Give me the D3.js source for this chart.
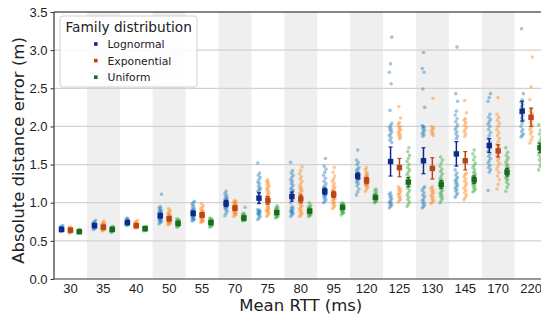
<!DOCTYPE html>
<html>
<head>
<meta charset="utf-8">
<script src="https://cdn.jsdelivr.net/npm/d3@7"></script>
<style>
  body { margin: 0; background: #fff; }
  svg { font-family: "DejaVu Sans", sans-serif; }
</style>
</head>
<body>
<svg id="chart"></svg>
<script>
const categories = ['30', '35', '40', '50', '55', '70', '75', '80', '95', '120', '125', '130', '145', '170', '220'];
const families = ['Lognormal', 'Exponential', 'Uniform'];
const yTicks = [0, 0.5, 1.0, 1.5, 2.0, 2.5, 3.0, 3.5];

// mean and error-bar half width
const lognormalMean = [0.65, 0.70, 0.74, 0.83, 0.86, 0.99, 1.06, 1.08, 1.15, 1.35, 1.54, 1.55, 1.64, 1.75, 2.20];
const lognormalErr = [0.01, 0.015, 0.015, 0.03, 0.03, 0.04, 0.07, 0.06, 0.04, 0.04, 0.19, 0.17, 0.16, 0.09, 0.13];
const exponentialMean = [0.64, 0.68, 0.70, 0.79, 0.84, 0.93, 1.03, 1.05, 1.11, 1.29, 1.46, 1.45, 1.55, 1.68, 2.12];
const exponentialErr = [0.01, 0.015, 0.015, 0.03, 0.03, 0.03, 0.05, 0.05, 0.04, 0.04, 0.12, 0.14, 0.12, 0.08, 0.12];
const uniformMean = [0.62, 0.65, 0.66, 0.73, 0.74, 0.80, 0.87, 0.89, 0.94, 1.07, 1.27, 1.24, 1.30, 1.40, 1.72];
const uniformErr = [0.01, 0.01, 0.01, 0.015, 0.02, 0.02, 0.02, 0.02, 0.02, 0.02, 0.06, 0.05, 0.05, 0.05, 0.06];

// individual runs, one list per RTT
const lognormalPts = [
  [0.62,0.63,0.63,0.64,0.64,0.64,0.65,0.65,0.65,0.65,0.66,0.66,0.66,0.67,0.67,0.68,0.69,0.70,0.64,0.65],
  [0.65,0.66,0.67,0.68,0.68,0.69,0.69,0.70,0.70,0.70,0.71,0.71,0.72,0.72,0.73,0.74,0.75,0.77,0.69,0.71],
  [0.70,0.71,0.71,0.72,0.72,0.73,0.73,0.74,0.74,0.74,0.75,0.75,0.76,0.77,0.78,0.79,0.80,0.73,0.75,0.76],
  [0.72,0.74,0.75,0.76,0.77,0.78,0.79,0.80,0.81,0.82,0.82,0.83,0.84,0.85,0.86,0.87,0.88,0.89,0.90,0.92,0.93,0.95,1.11,0.80,0.84],
  [0.76,0.77,0.78,0.79,0.80,0.81,0.82,0.83,0.84,0.85,0.86,0.86,0.87,0.88,0.89,0.90,0.91,0.92,0.94,0.96,0.98,1.00,1.02,0.85,0.88],
  [0.83,0.86,0.89,0.91,0.93,0.94,0.95,0.96,0.97,0.98,0.99,1.00,1.01,1.02,1.03,1.04,1.05,1.06,1.08,1.10,1.12,1.15,0.98,1.00],
  [0.78,0.80,0.82,0.84,0.85,0.86,0.87,0.88,0.89,0.90,0.91,1.00,1.04,1.08,1.12,1.15,1.18,1.20,1.22,1.25,1.27,1.30,1.33,1.36,1.39,1.52,1.13,1.17],
  [0.82,0.84,0.86,0.87,0.88,0.89,0.90,0.92,0.93,0.95,1.00,1.05,1.10,1.13,1.15,1.18,1.20,1.23,1.25,1.28,1.30,1.33,1.36,1.39,1.42,1.53,1.12,1.16],
  [1.00,1.02,1.04,1.06,1.08,1.09,1.10,1.11,1.12,1.13,1.14,1.15,1.16,1.17,1.18,1.20,1.22,1.25,1.28,1.32,1.36,1.40,1.44,1.48,1.58,1.14],
  [1.10,1.14,1.18,1.22,1.25,1.27,1.29,1.31,1.33,1.34,1.35,1.36,1.37,1.38,1.40,1.42,1.44,1.46,1.50,1.53,1.56,1.69,1.32,1.36],
  [0.93,0.95,0.97,0.98,1.00,1.01,1.03,1.05,1.07,1.09,1.11,1.13,1.79,1.82,1.85,1.88,1.90,1.93,1.95,1.97,1.99,2.01,2.04,2.21,2.56,2.71,2.82,3.17],
  [0.93,0.95,0.97,0.99,1.01,1.03,1.05,1.08,1.10,1.13,1.16,1.19,1.21,1.87,1.89,1.91,1.93,1.95,1.97,1.99,2.01,2.00,2.25,2.49,2.71,2.76,2.97],
  [1.07,1.10,1.12,1.15,1.17,1.19,1.21,1.23,1.25,1.27,1.29,1.31,1.33,1.36,1.39,1.43,1.84,1.87,1.90,1.93,1.96,1.99,2.02,2.06,2.10,2.15,2.20,2.33,2.43,3.04],
  [1.16,1.40,1.43,1.46,1.49,1.52,1.55,1.58,1.61,1.64,1.67,1.70,1.73,1.76,1.80,1.84,1.88,1.92,1.96,2.00,2.03,2.06,2.09,2.12,2.16,2.33,2.38,2.43],
  [1.86,1.88,1.90,1.93,1.96,2.00,2.04,2.08,2.11,2.14,2.17,2.20,2.23,2.26,2.29,2.32,2.35,2.43,3.28]
];
const exponentialPts = [
  [0.60,0.61,0.62,0.62,0.63,0.63,0.63,0.64,0.64,0.64,0.65,0.65,0.65,0.66,0.66,0.67,0.68,0.63,0.64,0.65],
  [0.63,0.64,0.65,0.65,0.66,0.66,0.67,0.67,0.68,0.68,0.68,0.69,0.69,0.70,0.70,0.71,0.72,0.73,0.74,0.76],
  [0.67,0.67,0.68,0.68,0.69,0.69,0.69,0.70,0.70,0.70,0.71,0.71,0.72,0.72,0.73,0.74,0.75,0.77,0.70,0.71],
  [0.71,0.72,0.73,0.74,0.75,0.75,0.76,0.77,0.77,0.78,0.78,0.79,0.79,0.80,0.80,0.81,0.82,0.83,0.84,0.85,0.86,0.88,0.90,0.92],
  [0.74,0.75,0.76,0.77,0.78,0.79,0.80,0.81,0.81,0.82,0.83,0.83,0.84,0.84,0.85,0.86,0.87,0.88,0.89,0.90,0.92,0.94,0.96,0.99],
  [0.82,0.84,0.85,0.86,0.87,0.88,0.89,0.90,0.91,0.92,0.92,0.93,0.93,0.94,0.94,0.95,0.96,0.97,0.98,0.99,1.00,1.01,1.02,1.03],
  [0.82,0.84,0.86,0.88,0.89,0.90,0.92,0.93,0.94,0.96,0.98,1.00,1.02,1.04,1.06,1.08,1.10,1.12,1.14,1.16,1.18,1.20,1.22,1.24,1.26,1.28,1.30],
  [0.82,0.84,0.86,0.88,0.90,0.92,0.94,0.96,0.98,1.00,1.02,1.04,1.06,1.08,1.10,1.12,1.14,1.16,1.18,1.20,1.22,1.25,1.28,1.31,1.34,1.38,1.42,1.47],
  [0.92,0.94,0.96,0.98,1.00,1.02,1.04,1.05,1.06,1.08,1.09,1.10,1.11,1.12,1.14,1.16,1.18,1.20,1.22,1.25,1.28,1.31,1.35,1.40,1.46],
  [1.15,1.18,1.20,1.22,1.23,1.24,1.25,1.26,1.27,1.28,1.29,1.30,1.31,1.32,1.33,1.34,1.35,1.36,1.38,1.40,1.43,1.46],
  [1.01,1.03,1.05,1.07,1.09,1.11,1.13,1.15,1.17,1.19,1.21,1.84,1.86,1.88,1.90,1.92,1.94,1.96,1.98,2.00,2.03,2.05,2.11,2.26],
  [0.99,1.01,1.03,1.05,1.07,1.09,1.11,1.13,1.15,1.17,1.19,1.21,1.88,1.90,1.92,1.94,1.96,1.98,2.00,2.37],
  [1.04,1.07,1.10,1.13,1.16,1.19,1.22,1.25,1.28,1.31,1.34,1.37,1.39,1.87,1.90,1.93,1.96,1.99,2.02,2.05,2.08,2.10,2.18,2.34],
  [1.18,1.24,1.30,1.35,1.40,1.44,1.48,1.52,1.55,1.58,1.61,1.64,1.67,1.70,1.73,1.76,1.80,1.84,1.88,1.92,1.96,2.00,2.04,2.08,2.12,2.16,2.38],
  [1.78,1.82,1.86,1.90,1.93,1.96,1.99,2.02,2.05,2.08,2.11,2.14,2.17,2.20,2.23,2.35,2.52,2.91]
];
const uniformPts = [
  [0.60,0.61,0.61,0.62,0.62,0.62,0.63,0.63,0.63,0.64,0.64,0.65,0.62,0.63,0.61,0.62,0.63,0.64],
  [0.61,0.62,0.63,0.63,0.64,0.64,0.65,0.65,0.65,0.66,0.66,0.67,0.67,0.68,0.69,0.64,0.65,0.66],
  [0.63,0.64,0.64,0.65,0.65,0.66,0.66,0.66,0.67,0.67,0.68,0.68,0.69,0.65,0.66,0.67],
  [0.68,0.69,0.70,0.70,0.71,0.72,0.72,0.73,0.73,0.74,0.74,0.75,0.76,0.77,0.78,0.79,0.72,0.73,0.74],
  [0.68,0.69,0.70,0.71,0.72,0.72,0.73,0.74,0.74,0.75,0.75,0.76,0.77,0.78,0.79,0.80,0.73,0.76],
  [0.76,0.77,0.77,0.78,0.78,0.79,0.79,0.80,0.80,0.81,0.81,0.82,0.82,0.83,0.84,0.85,0.86,0.94],
  [0.80,0.81,0.82,0.83,0.84,0.85,0.86,0.86,0.87,0.87,0.88,0.88,0.89,0.89,0.90,0.91,0.92,0.93,0.94,0.96],
  [0.82,0.83,0.84,0.85,0.86,0.87,0.88,0.88,0.89,0.89,0.90,0.90,0.91,0.92,0.93,0.94,0.95,0.97,1.00],
  [0.84,0.86,0.87,0.88,0.89,0.90,0.91,0.92,0.92,0.93,0.93,0.94,0.94,0.95,0.96,0.97,0.98,0.99,1.00],
  [1.00,1.01,1.02,1.03,1.04,1.05,1.05,1.06,1.06,1.07,1.07,1.08,1.08,1.09,1.10,1.11,1.12,1.14,1.16,1.18],
  [0.95,0.98,1.01,1.04,1.07,1.10,1.13,1.16,1.19,1.22,1.25,1.27,1.29,1.31,1.34,1.37,1.40,1.43,1.46,1.50,1.54,1.58,1.62,1.67,1.72],
  [1.00,1.03,1.06,1.08,1.10,1.12,1.14,1.16,1.18,1.20,1.22,1.24,1.26,1.28,1.30,1.32,1.35,1.38,1.41,1.44,1.48,1.52,1.56,1.60],
  [1.14,1.16,1.18,1.20,1.22,1.24,1.26,1.28,1.30,1.32,1.34,1.36,1.38,1.40,1.43,1.46,1.49,1.52,1.56,1.60,1.64,1.69],
  [1.15,1.20,1.24,1.27,1.30,1.32,1.34,1.36,1.38,1.40,1.42,1.44,1.46,1.48,1.50,1.53,1.56,1.59,1.62,1.66,1.72],
  [1.43,1.48,1.52,1.56,1.60,1.63,1.66,1.69,1.72,1.75,1.78,1.81,1.85,1.90,1.95,2.02]
];

const series = [
  { name: 'Lognormal', pts: lognormalPts, mean: lognormalMean, err: lognormalErr, light: '#1f77b4', dark: '#0d2a8a' },
  { name: 'Exponential', pts: exponentialPts, mean: exponentialMean, err: exponentialErr, light: '#ff7f0e', dark: '#b8461b' },
  { name: 'Uniform', pts: uniformPts, mean: uniformMean, err: uniformErr, light: '#2ca02c', dark: '#196b1e' }
];

const width = 541, height = 320;
const margin = { top: 12, left: 54, bottom: 41 };
const plotRight = 547.5;

const svg = d3.select('#chart').attr('width', width).attr('height', height);

const x = d3.scaleBand().domain(categories).range([margin.left, plotRight]).padding(0);
const sub = d3.scalePoint().domain(families).range([-0.27 * x.bandwidth(), 0.27 * x.bandwidth()]);
const y = d3.scaleLinear().domain([0, 3.5]).range([height - margin.bottom, margin.top]);

// alternating bands
svg.append('g').selectAll('rect')
  .data(categories.filter((c, i) => i % 2 === 1))
  .enter().append('rect')
  .attr('x', d => x(d))
  .attr('y', y(3.5))
  .attr('width', x.bandwidth())
  .attr('height', y(0) - y(3.5))
  .style('fill', '#efefef');

// grid
svg.append('g').selectAll('line')
  .data(yTicks.slice(1, -1))
  .enter().append('line')
  .attr('x1', margin.left).attr('x2', plotRight)
  .attr('y1', d => y(d)).attr('y2', d => y(d))
  .style('stroke', '#d2d2d2')
  .style('stroke-width', 1.2);

// raw points
series.forEach(s => {
  const g = svg.append('g');
  s.pts.forEach((vals, ci) => {
    const cx = x(categories[ci]) + x.bandwidth() / 2 + sub(s.name);
    g.selectAll(null)
      .data(vals)
      .enter().append('circle')
      .attr('cx', (d, i) => cx + ((i * 7) % 5 - 2) * 0.6)
      .attr('cy', d => y(d))
      .attr('r', 1.8)
      .style('fill', s.light)
      .style('fill-opacity', 0.42);
  });
});

// means with error bars
series.forEach(s => {
  const g = svg.append('g');
  s.mean.forEach((m, ci) => {
    const cx = x(categories[ci]) + x.bandwidth() / 2 + sub(s.name);
    const lo = y(m - s.err[ci]), hi = y(m + s.err[ci]);
    g.append('line').attr('x1', cx).attr('x2', cx).attr('y1', lo).attr('y2', hi)
      .style('stroke', s.dark).style('stroke-width', 1.5);
    [lo, hi].forEach(yy => {
      g.append('line').attr('x1', cx - 2).attr('x2', cx + 2).attr('y1', yy).attr('y2', yy)
        .style('stroke', s.dark).style('stroke-width', 1.2);
    });
    g.append('rect').attr('x', cx - 2.7).attr('y', y(m) - 2.7)
      .attr('width', 5.4).attr('height', 5.4)
      .style('fill', s.dark);
  });
});

// axes
const yAxis = d3.axisLeft(y).tickValues(yTicks).tickFormat(d3.format('.1f')).tickSize(3.5).tickPadding(3);
const yg = svg.append('g').attr('transform', `translate(${margin.left},0)`).call(yAxis);
yg.select('.domain').remove();
yg.selectAll('text').style('font-size', '13px').style('fill', '#222');
yg.selectAll('line').style('stroke', '#333');

const xAxis = d3.axisBottom(x).tickSize(0).tickPadding(5);
const xg = svg.append('g').attr('transform', `translate(0,${y(0)})`).call(xAxis);
xg.select('.domain').remove();
xg.selectAll('text').style('font-size', '13px').style('fill', '#222');

// spines
svg.append('line').attr('x1', margin.left).attr('x2', plotRight).attr('y1', y(3.5)).attr('y2', y(3.5))
  .style('stroke', '#111').style('stroke-width', 1.2);
svg.append('line').attr('x1', margin.left).attr('x2', plotRight).attr('y1', y(0)).attr('y2', y(0))
  .style('stroke', '#333').style('stroke-width', 1.2);
svg.append('line').attr('x1', margin.left).attr('x2', margin.left).attr('y1', y(0)).attr('y2', y(3.5))
  .style('stroke', '#333').style('stroke-width', 1.2);

// axis labels
svg.append('text')
  .attr('x', (margin.left + plotRight) / 2).attr('y', 311)
  .attr('text-anchor', 'middle')
  .style('font-size', '16.5px').style('fill', '#222')
  .text('Mean RTT (ms)');
svg.append('text')
  .attr('transform', `translate(24,${(y(0) + y(3.5)) / 2 + 5}) rotate(-90)`)
  .attr('text-anchor', 'middle')
  .style('font-size', '16.5px').style('fill', '#222')
  .text('Absolute distance error (m)');

// legend
const legend = svg.append('g').attr('transform', 'translate(60,16)');
legend.append('rect').attr('width', 137).attr('height', 71).attr('rx', 3)
  .style('fill', 'white').style('fill-opacity', 0.85)
  .style('stroke', '#d0d0d0');
legend.append('text').attr('x', 5.5).attr('y', 16)
  .style('font-size', '13.7px').style('fill', '#222')
  .text('Family distribution');
series.forEach((s, i) => {
  const ly = 28 + i * 16.6;
  legend.append('rect').attr('x', 34).attr('y', ly - 1.8).attr('width', 3.6).attr('height', 3.6)
    .style('fill', s.dark);
  legend.append('text').attr('x', 47.5).attr('y', ly + 4)
    .style('font-size', '10.8px').style('fill', '#222')
    .text(s.name);
});
</script>
</body>
</html>
